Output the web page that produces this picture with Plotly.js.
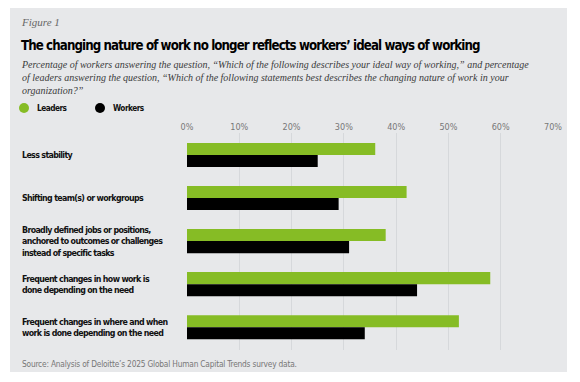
<!DOCTYPE html>
<html><head><meta charset="utf-8">
<script src="https://cdn.plot.ly/plotly-3.0.1.min.js"></script>
<style>html,body{margin:0;padding:0;background:#fff}#c{width:580px;height:382px}</style>
</head><body><div id="c"></div>
<script>
const categories = [
  "Less stability",
  "Shifting team(s) or workgroups",
  "Broadly defined jobs or positions,<br>anchored to outcomes or challenges<br>instead of specific tasks",
  "Frequent changes in how work is<br>done depending on the need",
  "Frequent changes in where and when<br>work is done depending on the need"
];
const seriesNames = ["Leaders", "Workers"];
const leaders = [36, 42, 38, 58, 52];
const workers = [25, 29, 31, 44, 34];
const tickVals = [0, 10, 20, 30, 40, 50, 60, 70];
const tickText = ["0%", "10%", "20%", "30%", "40%", "50%", "60%", "70%"];
const GREEN = "#86bc25";
const COLORS = [GREEN, "#000000"];
const idx = categories.map((_, i) => i);
const cond = "DejaVu Sans Condensed, DejaVu Sans, sans-serif";
const serif = "Liberation Serif, DejaVu Serif, serif";

const px = x => (x - 187) / 366;
const py = y => (350 - y) / 217;
const tight = (s, ls) => s.split("<br>").map(l => `<span style="letter-spacing:${ls}px">${l}</span>`).join("<br>");

const traces = [
  {type: "bar", orientation: "h", name: seriesNames[0], x: leaders, y: idx, marker: {color: COLORS[0]}, showlegend: false},
  {type: "bar", orientation: "h", name: seriesNames[1], x: workers, y: idx, marker: {color: COLORS[1]}, showlegend: false}
];

const annotations = categories.map((c, i) => ({
  text: tight(c, -0.65), xref: "paper", yref: "y", x: px(20), y: i, xanchor: "left", yanchor: "middle",
  align: "left", showarrow: false, font: {family: cond, size: 8.8, color: "#111", weight: "bold"}
}));
const legendX = [35, 111];
const shapes = [{type: "rect", xref: "paper", yref: "paper", x0: px(10), x1: px(567), y0: py(372), y1: py(8),
            fillcolor: "#e7e8ea", line: {width: 0}, layer: "below"}];
seriesNames.forEach((n, i) => {
  annotations.push({text: tight(n, -0.5), xref: "paper", yref: "paper", x: px(legendX[i]), y: py(108), xanchor: "left", yanchor: "middle",
    showarrow: false, font: {family: cond, size: 8.2, color: "#111", weight: "bold"}});
  const cx = legendX[i] - 11;
  shapes.push({type: "circle", xref: "paper", yref: "paper", x0: px(cx - 5), x1: px(cx + 5), y0: py(113), y1: py(103),
    fillcolor: COLORS[i], line: {width: 0}});
});
annotations.push(
  {text: "Figure 1", xref: "paper", yref: "paper", x: px(19), y: py(22), xanchor: "left", yanchor: "middle", showarrow: false,
   font: {family: serif, size: 11, color: "#666", style: "italic"}},
  {text: "<b>" + tight("The changing nature of work no longer reflects workers’ ideal ways of working", -0.9) + "</b>", xref: "paper", yref: "paper",
   x: px(19), y: py(45), xanchor: "left", yanchor: "middle", showarrow: false,
   font: {family: cond, size: 13.2, color: "#000"}},
  {text: "Percentage of workers answering the question, “Which of the following describes your ideal way of working,” and percentage<br>of leaders answering the question, “Which of the following statements best describes the changing nature of work in your<br>organization?”",
   xref: "paper", yref: "paper", x: px(19), y: py(57), xanchor: "left", yanchor: "top", align: "left", showarrow: false,
   font: {family: serif, size: 10, color: "#3a3a3a", style: "italic"}},
  {text: tight("Source: Analysis of Deloitte’s 2025 Global Human Capital Trends survey data.", -0.2), xref: "paper", yref: "paper",
   x: px(20), y: py(364), xanchor: "left", yanchor: "middle", showarrow: false,
   font: {family: cond, size: 8.3, color: "#777"}}
);

const layout = {
  width: 580, height: 382,
  margin: {l: 187, r: 27, t: 133, b: 32},
  paper_bgcolor: "#fff", plot_bgcolor: "rgba(0,0,0,0)",
  barmode: "group", bargap: 0.44, bargroupgap: 0,
  xaxis: {range: [0, 70], side: "top", tickvals: tickVals, ticktext: tickText, showgrid: true, gridcolor: "#d6d8db", gridwidth: 1,
          zeroline: false, showline: false, ticks: "", tickfont: {family: cond, size: 9, color: "#777"}, fixedrange: true},
  yaxis: {range: [4.53, -0.51], showticklabels: false, showgrid: false, zeroline: false, ticks: "", fixedrange: true},
  showlegend: false,
  shapes: shapes,
  annotations: annotations
};
Plotly.newPlot("c", traces, layout, {displayModeBar: false, staticPlot: true});
</script></body></html>
